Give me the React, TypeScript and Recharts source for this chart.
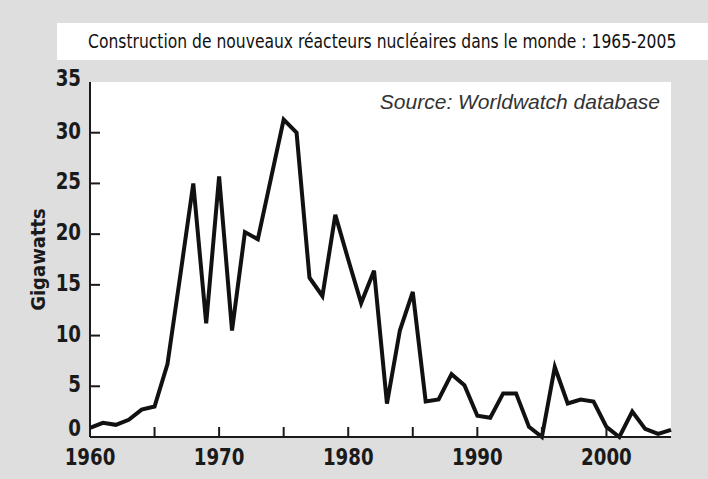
import React from "react";
import { LineChart, Line, XAxis, YAxis, CartesianGrid } from "recharts";

const years = [
  1960, 1961, 1962, 1963, 1964, 1965, 1966, 1967, 1968, 1969,
  1970, 1971, 1972, 1973, 1974, 1975, 1976, 1977, 1978, 1979,
  1980, 1981, 1982, 1983, 1984, 1985, 1986, 1987, 1988, 1989,
  1990, 1991, 1992, 1993, 1994, 1995, 1996, 1997, 1998, 1999,
  2000, 2001, 2002, 2003, 2004, 2005,
];

// gigawatts of construction starts per year
const gigawatts = [
  0.9, 1.4, 1.2, 1.7, 2.7, 3.0, 7.2, 16.0, 25.0, 11.2,
  25.7, 10.5, 20.2, 19.5, 25.4, 31.3, 30.0, 15.7, 13.9, 21.9,
  17.5, 13.2, 16.4, 3.3, 10.5, 14.3, 3.5, 3.7, 6.2, 5.1,
  2.1, 1.9, 4.3, 4.3, 1.0, 0.0, 6.9, 3.3, 3.7, 3.5,
  1.0, 0.0, 2.5, 0.8, 0.3, 0.7,
];

const xTicks = [1960, 1965, 1970, 1975, 1980, 1985, 1990, 1995, 2000, 2005];
const yTicks = [0, 5, 10, 15, 20, 25, 30, 35];

const title = "Construction de nouveaux réacteurs nucléaires dans le monde : 1965-2005";
const source = "Source: Worldwatch database";

const data = years.map((y, i) => ({ year: y, gw: gigawatts[i] }));

const axisFont = "'DejaVu Sans Condensed', 'DejaVu Sans', sans-serif";

function XTick({ x, y, payload }: any) {
  const v = payload.value;
  return (
    <g>
      {v > 1960 && v < 2005 && (
        <line x1={x} x2={x} y1={y} y2={y - 10} stroke="#1a1a1a" strokeWidth={2} />
      )}
      {v % 10 === 0 && v <= 2000 && (
        <text
          transform={`translate(${x} ${y + 28}) scale(0.88 1)`}
          textAnchor="middle"
          fontFamily={axisFont}
          fontWeight="bold"
          fontSize={23}
          fill="#1a1a1a"
        >
          {v}
        </text>
      )}
    </g>
  );
}

function YTick({ x, y, payload }: any) {
  const v = payload.value;
  const shift = v === 0 ? -1 : v === 35 ? 4 : 6;
  return (
    <g>
      {v > 0 && v < 35 && (
        <line x1={x + 9} x2={x + 19} y1={y} y2={y} stroke="#1a1a1a" strokeWidth={2} />
      )}
      <text
        transform={`translate(${x} ${y + shift}) scale(0.88 1)`}
        textAnchor="end"
        fontFamily={axisFont}
        fontWeight="bold"
        fontSize={23}
        fill="#1a1a1a"
      >
        {v}
      </text>
    </g>
  );
}

export default function App() {
  return (
    <div
      style={{
        position: "absolute",
        left: 0,
        top: 0,
        width: 708,
        height: 479,
        background: "#dedede",
        overflow: "hidden",
      }}
    >
      <div
        style={{
          position: "absolute",
          left: 57,
          top: 23,
          width: 651,
          height: 37,
          background: "#fff",
          textAlign: "center",
          lineHeight: "37px",
          fontFamily: axisFont,
          fontSize: 19,
          color: "#111",
          whiteSpace: "nowrap",
        }}
      >
        <span style={{ display: "inline-block", transform: "scaleX(0.91)" }}>{title}</span>
      </div>
      <LineChart
        width={708}
        height={479}
        data={data}
        margin={{ top: 82, right: 37, bottom: 2, left: 30 }}
      >
        <CartesianGrid horizontal={false} vertical={false} fill="#fff" />
        <XAxis
          dataKey="year"
          type="number"
          domain={[1960, 2005]}
          ticks={xTicks}
          interval={0}
          height={40}
          tickSize={0}
          tickMargin={0}
          tick={<XTick />}
          axisLine={{ stroke: "#1a1a1a", strokeWidth: 2 }}
          tickLine={false}
        />
        <XAxis
          xAxisId="top"
          orientation="top"
          dataKey="year"
          type="number"
          domain={[1960, 2005]}
          height={0}
          tick={false}
          tickLine={false}
          axisLine={{ stroke: "#1a1a1a", strokeWidth: 2 }}
        />
        <YAxis
          type="number"
          domain={[0, 35]}
          ticks={yTicks}
          interval={0}
          width={60}
          tickSize={0}
          tickMargin={9}
          tick={<YTick />}
          tickLine={false}
          axisLine={{ stroke: "#1a1a1a", strokeWidth: 2 }}
          label={{
            value: "Gigawatts",
            angle: -90,
            position: "insideLeft",
            offset: 8,
            style: {
              textAnchor: "middle",
              fontFamily: axisFont,
              fontWeight: "bold",
              fontSize: 20,
              fill: "#1a1a1a",
            },
          }}
        />
        <YAxis
          yAxisId="right"
          orientation="right"
          type="number"
          domain={[0, 35]}
          width={0}
          tick={false}
          tickLine={false}
          axisLine={{ stroke: "#1a1a1a", strokeWidth: 2 }}
        />
        <Line
          type="linear"
          dataKey="gw"
          stroke="#111"
          strokeWidth={4}
          dot={false}
          activeDot={false}
          isAnimationActive={false}
        />
      </LineChart>
      <div
        style={{
          position: "absolute",
          left: 0,
          top: 92,
          width: 660,
          textAlign: "right",
          fontFamily: "'Liberation Sans', Arial, sans-serif",
          fontStyle: "italic",
          fontSize: 21,
          lineHeight: "20px",
          color: "#333",
          whiteSpace: "nowrap",
        }}
      >
        {source}
      </div>
    </div>
  );
}
